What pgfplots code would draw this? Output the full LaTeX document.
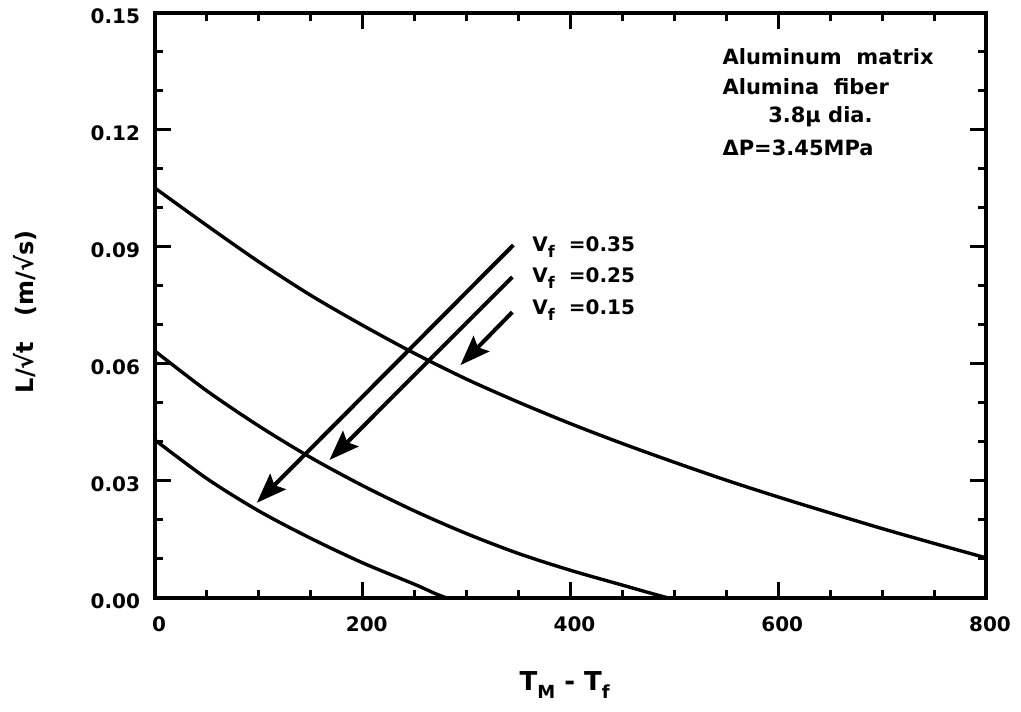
\documentclass[border=0pt]{standalone}
\usepackage{fontspec}
\setmainfont{DejaVu Sans}
\usepackage{pgfplots}
\pgfplotsset{compat=1.18}
\usetikzlibrary{arrows.meta}
\begin{document}
\begin{tikzpicture}
\useasboundingbox (0,0) rectangle (510.5pt,355.5pt);
\begin{axis}[
  at={(77.5pt,56.5pt)}, anchor=south west,
  scale only axis, width=415.5pt, height=292.5pt,
  xmin=0, xmax=800, ymin=0, ymax=0.15,
  xtick={0,200,400,600,800}, minor x tick num=3,
  ytick={0,0.03,0.06,0.09,0.12,0.15}, minor y tick num=2,
  scaled y ticks=false,
  tick align=inside, major tick length=8pt, minor tick length=4pt,
  axis line style={line width=2pt},
  every tick/.style={black, line width=1.5pt},
  tick label style={font=\fontsize{10}{12}\selectfont\bfseries},
  /pgf/number format/assume math mode=true,
  y tick label style={/pgf/number format/.cd, fixed, fixed zerofill, precision=2, /tikz/.cd, xshift=-4pt, yshift=-1.5pt},
  x tick label style={yshift=-6pt, xshift=2pt},
  clip=false,
]
% Vf = 0.15
\addplot[black, line width=1.7pt, smooth] coordinates {
 (0,0.1051) (50,0.0955) (100,0.0862) (150,0.0776) (200,0.0699) (250,0.0627)
 (300,0.0561) (350,0.0502) (400,0.0447) (450,0.0396) (500,0.0348)
 (550,0.0302) (600,0.0259) (650,0.0218) (700,0.0178) (750,0.0140) (800,0.0103)
};
% Vf = 0.25
\addplot[black, line width=1.7pt, smooth] coordinates {
 (0,0.0633) (50,0.0531) (100,0.0441) (150,0.0360) (200,0.0288) (250,0.0223)
 (300,0.0165) (350,0.0114) (400,0.0071) (450,0.0033) (475,0.0014) (494,0)
};
% Vf = 0.35
\addplot[black, line width=1.7pt, smooth] coordinates {
 (0,0.0405) (50,0.0306) (100,0.0223) (150,0.0153) (200,0.0090) (250,0.0035)
 (270,0.0011) (281,0)
};
% arrows
\draw[line width=2pt, -{Stealth[length=15pt,width=11pt,inset=2.5pt]}] (axis cs:345,0.0905) -- (axis cs:98,0.0244);
\draw[line width=2pt, -{Stealth[length=15pt,width=11pt,inset=2.5pt]}] (axis cs:344,0.0823) -- (axis cs:168,0.0354);
\draw[line width=2pt, -{Stealth[length=15pt,width=11pt,inset=2.5pt]}] (axis cs:344,0.0733) -- (axis cs:294,0.0597);
% Vf labels
\node[anchor=west, font=\fontsize{10}{12}\selectfont\bfseries, inner sep=0pt] at (axis cs:363,0.0900) {V\raisebox{-0.55ex}{\fontsize{8}{9}\selectfont f}\ \ =0.35};
\node[anchor=west, font=\fontsize{10}{12}\selectfont\bfseries, inner sep=0pt] at (axis cs:363,0.0821) {V\raisebox{-0.55ex}{\fontsize{8}{9}\selectfont f}\ \ =0.25};
\node[anchor=west, font=\fontsize{10}{12}\selectfont\bfseries, inner sep=0pt] at (axis cs:363,0.0738) {V\raisebox{-0.55ex}{\fontsize{8}{9}\selectfont f}\ \ =0.15};
% annotation
\node[anchor=west, font=\fontsize{10.5}{12}\selectfont\bfseries, inner sep=0pt] at (axis cs:546,0.1387) {Aluminum\ \ matrix};
\node[anchor=west, font=\fontsize{10.5}{12}\selectfont\bfseries, inner sep=0pt] at (axis cs:546,0.1310) {Alumina\ \ fiber};
\node[anchor=west, font=\fontsize{10.5}{12}\selectfont\bfseries, inner sep=0pt] at (axis cs:590,0.1233) {3.8μ dia.};
\node[anchor=west, font=\fontsize{10.5}{12}\selectfont\bfseries, inner sep=0pt] at (axis cs:546,0.1154) {ΔP=3.45MPa};
% axis labels
\node[rotate=90, font=\fontsize{12}{14}\selectfont\bfseries] at (rel axis cs:-0.156,0.489) {L/√t\ \ \ (m/√s)};
\node[font=\fontsize{13}{15}\selectfont\bfseries] at (rel axis cs:0.493,-0.149) {T\raisebox{-0.6ex}{\fontsize{9}{10}\selectfont M} - T\raisebox{-0.6ex}{\fontsize{9}{10}\selectfont f}};
\end{axis}
\end{tikzpicture}
\end{document}
